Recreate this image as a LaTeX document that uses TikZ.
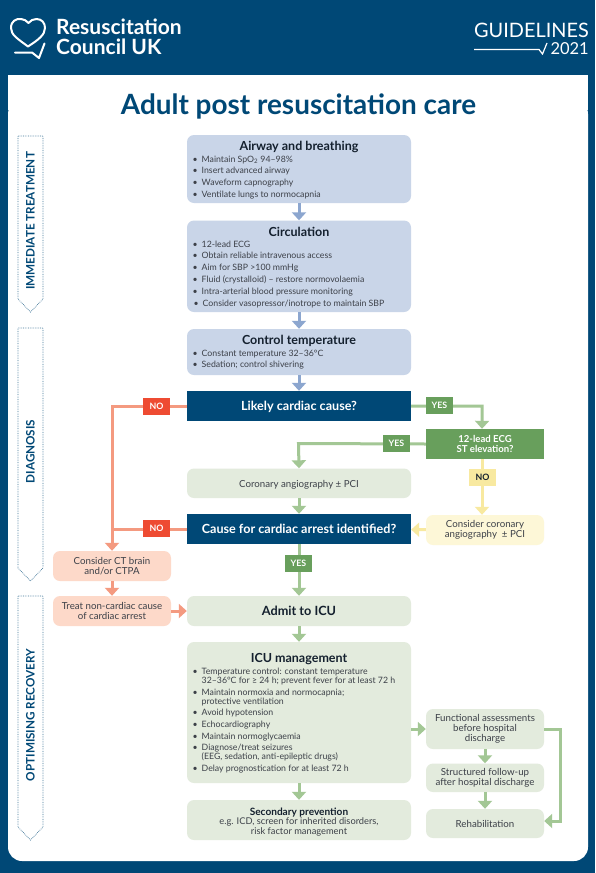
\documentclass[tikz,border=0pt]{standalone}
\usepackage{fontspec}
\setmainfont{Lato}
\usetikzlibrary{arrows.meta,positioning,calc}
\definecolor{navy}{HTML}{004876}
\definecolor{bluebg}{HTML}{C9D5E8}
\definecolor{bluearr}{HTML}{8CA6CF}
\definecolor{greenbg}{HTML}{E3EBDD}
\definecolor{greenarr}{HTML}{A3C795}
\definecolor{greenlab}{HTML}{689F5C}
\definecolor{orangebg}{HTML}{FDD9C9}
\definecolor{orangearr}{HTML}{F49A80}
\definecolor{redlab}{HTML}{EE4B32}
\definecolor{yellowbg}{HTML}{FDF7D7}
\definecolor{yellowarr}{HTML}{F8E9A0}
\definecolor{bodytxt}{HTML}{3C4048}
\definecolor{headtxt}{HTML}{14202E}
\newcommand{\bitem}[1]{\makebox[9pt][l]{\textbullet}#1}
\newcommand{\bcont}[1]{\hspace*{9pt}#1}
\tikzset{
    box/.style =    {rectangle,
                    rounded corners=7pt,
                    minimum width=224pt,
                    inner sep=0pt,
                    align=center,
                    text=bodytxt,
                    font=\fontsize{9.7}{10}\selectfont},
    bluebox/.style =    {box, fill=bluebg},
    greenbox/.style =   {box, fill=greenbg},
    sidebox/.style =    {box, fill=greenbg, minimum width=118pt},
    orangebox/.style =  {box, fill=orangebg, minimum width=118pt},
    yellowbox/.style =  {box, fill=yellowbg, minimum width=118pt},
    question/.style =   {rectangle,
                    fill=navy,
                    text=white,
                    minimum width=224pt,
                    minimum height=30pt,
                    inner sep=0pt,
                    text height=9pt,
                    text depth=1pt,
                    font=\fontsize{12.6}{14}\bfseries\selectfont},
    headtext/.style =   {text=headtxt, inner sep=0pt,
                    font=\fontsize{12.5}{14}\bfseries\selectfont},
    bullets/.style =    {text=bodytxt, inner sep=0pt, align=left, anchor=north west,
                    font=\fontsize{8.75}{9}\selectfont},
    tag/.style =    {rectangle,
                    minimum width=27pt,
                    minimum height=17pt,
                    inner sep=0pt,
                    font=\fontsize{8.8}{9}\bfseries\selectfont},
    yes/.style =    {tag, fill=greenlab, text=white},
    no/.style =     {tag, fill=redlab, text=white},
    noyellow/.style = {tag, fill=yellowarr, text=headtxt},
    link/.style =   {line width=3pt, -{Triangle[width=14pt,length=8pt]}},
    bluelink/.style =   {link, draw=bluearr},
    greenlink/.style =  {link, draw=greenarr},
    orangelink/.style = {link, draw=orangearr},
    yellowlink/.style = {link, draw=yellowarr},
    phase/.style =  {draw=navy!75!white, line width=0.7pt, densely dotted},
    phasetext/.style =  {rotate=90, text=navy, inner sep=0pt,
                    font=\fontsize{11.7}{12}\selectfont\bfseries},
    logo/.style =   {draw=white, line width=2pt, line join=round, line cap=round}
}
\begin{document}
\begin{tikzpicture}[x=1pt,y=-1pt]
\useasboundingbox (0,0) rectangle (595,873);
\fill[navy] (0,0) rectangle (595,873);
\fill[white,rounded corners=14pt] (8,100) -- (8,861) -- (588,861) -- (588,100) -- cycle;
\fill[white] (8,75) rectangle (588,110);

% header
\draw[logo] (28,46.5) .. controls (18,39) and (11,35) .. (11,28) .. controls (11,21) and (16,18.5) .. (21,19) .. controls (24,19.3) and (26.5,20.5) .. (28.5,23) .. controls (30.5,20.5) and (33,19) .. (36.5,19) .. controls (42,19) and (45,23) .. (45,28) .. controls (45,35) and (38,40) .. (28,46.5);
\draw[logo] (15,52.5) -- (32,52.5) -- (39,58) -- (44.5,43.5);
\node[text=white,inner sep=0pt,anchor=base west,font=\fontsize{21}{22}\bfseries\selectfont] (rc) at (56,34) {Resuscitation};
\node[text=white,inner sep=0pt,anchor=base west,font=\fontsize{21}{22}\bfseries\selectfont] (uk) at (56,54) {Council UK};
\node[text=white,inner sep=0pt,anchor=base east,font=\fontsize{19.9}{20}\selectfont] (gl) at (589,37) {GUIDELINES};
\node[text=white,inner sep=0pt,anchor=base east,font=\fontsize{16.5}{20}\selectfont] (yr) at (589,54.5) {2021};
\draw[draw=white,line width=1.2pt] (474,49.5) -- (539,49.5) -- (542.5,54) -- (547,43);
\node[text=navy,inner sep=0pt,font=\fontsize{27.9}{30}\bfseries\selectfont] (title) at (298.5,106) {Adult post resuscitation care};

% phases
\draw[phase] (18,136) -- (43,136) -- (43,299) -- (30.5,312) -- (18,299) -- cycle;
\draw[phase] (18,328) -- (43,328) -- (43,568) -- (30.5,581) -- (18,568) -- cycle;
\draw[phase] (18,596) -- (43,596) -- (43,827) -- (30.5,840) -- (18,827) -- cycle;
\node[phasetext] (ph1) at (30.5,221) {IMMEDIATE TREATMENT};
\node[phasetext] (ph2) at (30.5,451.5) {DIAGNOSIS};
\node[phasetext] (ph3) at (30.5,715) {OPTIMISING RECOVERY};

% boxes
\node[bluebox,minimum height=68pt]  (airway) at (299,169) {};
\node[bluebox,minimum height=91.5pt] (circ) at (299,266.25) {};
\node[bluebox,minimum height=46pt]  (temp) at (299,352) {};
\node[question] (likely) at (299,406) {Likely cardiac cause?};
\node[rectangle,fill=greenlab,text=white,minimum width=118pt,minimum height=30pt,inner sep=0pt,align=center,font=\fontsize{9.6}{10}\bfseries\selectfont] (ecg) at (485,444) {12-lead ECG\\ST elevation?};
\node[greenbox,minimum height=29.5pt,text height=7.5pt,text depth=0pt] (angio) at (299,483.25) {Coronary angiography ± PCI};
\node[question] (cause) at (299,529) {Cause for cardiac arrest identified?};
\node[yellowbox,minimum height=30pt] (conscor) at (485,530) {Consider coronary\\angiography\ \ ± PCI};
\node[orangebox,minimum height=30pt] (ct) at (112,566) {Consider CT brain\\and/or CTPA};
\node[orangebox,minimum height=30pt] (treat) at (112,611) {Treat non-cardiac cause\\of cardiac arrest};
\node[greenbox,minimum height=30pt,text height=9pt,text depth=0pt,text=headtxt,font=\fontsize{12.7}{14}\bfseries\selectfont] (icu) at (299,611) {Admit to ICU};
\node[greenbox,minimum height=141pt] (mgmt) at (299,712.5) {};
\node[greenbox,minimum height=40pt,font=\fontsize{9.3}{9.6}\selectfont] (second) at (299,820) {\rule{0pt}{11pt}{\fontsize{10.1}{9.6}\bfseries\selectfont\color{headtxt}Secondary prevention}\\e.g. ICD, screen for inherited disorders,\\risk factor management};
\node[sidebox,minimum height=40pt] (func) at (485,729) {Functional assessments\\before hospital\\discharge};
\node[sidebox,minimum height=28.5pt] (follow) at (485,777.75) {Structured follow-up\\after hospital discharge};
\node[sidebox,minimum height=29pt] (rehab) at (485,823.5) {Rehabilitation};

% box contents
\node[headtext] (airwayt) at (299,147) {Airway and breathing};
\node[bullets] (airwayl) at (192.5,155.5) {\bitem{Maintain SpO\textsubscript{2} 94–98\%}\\[2.8pt]\bitem{Insert advanced airway}\\[2.8pt]\bitem{Waveform capnography}\\[2.8pt]\bitem{Ventilate lungs to normocapnia}};
\node[headtext] (circt) at (299,232) {Circulation};
\node[bullets] (circl) at (192.5,240.5) {\bitem{12-lead ECG}\\[2.8pt]\bitem{Obtain reliable intravenous access}\\[2.8pt]\bitem{Aim for SBP >100 mmHg}\\[2.8pt]\bitem{Fluid (crystalloid) – restore normovolaemia}\\[2.8pt]\bitem{Intra-arterial blood pressure monitoring}\\[2.8pt]\hspace*{1pt}\bitem{Consider vasopressor/inotrope to maintain SBP}};
\node[headtext] (tempt) at (299,341) {Control temperature};
\node[bullets] (templ) at (192.5,349.5) {\bitem{Constant temperature 32–36°C}\\[2.8pt]\bitem{Sedation; control shivering}};
\node[headtext] (mgmtt) at (299,659) {ICU management};
\node[bullets] (mgmtl) at (192.5,668) {\bitem{Temperature control: constant temperature}\\\bcont{32–36°C for ≥ 24 h; prevent fever for at least 72 h}\\[2.4pt]\bitem{Maintain normoxia and normocapnia;}\\\bcont{protective ventilation}\\[2.8pt]\bitem{Avoid hypotension}\\[2.8pt]\bitem{Echocardiography}\\[2.8pt]\bitem{Maintain normoglycaemia}\\[2.4pt]\bitem{Diagnose/treat seizures}\\\bcont{(EEG, sedation, anti-epileptic drugs)}\\[2.8pt]\bitem{Delay prognostication for at least 72 h}};

% connectors
\draw[bluelink] (airway) -- (circ);
\draw[bluelink] (circ) -- (temp);
\draw[bluelink] (temp) -- (likely);
\draw[greenlink] (likely.east) -- ++(71,0) -- ([xshift=-3pt]ecg.north);
\draw[greenlink] (ecg.west) -- (298.5,443.5) -- (angio.north);
\draw[greenlink] (angio) -- (cause);
\draw[greenlink] (cause) -- (icu);
\draw[greenlink] (icu) -- (mgmt);
\draw[greenlink] (mgmt) -- (second);
\draw[greenlink] (mgmt.east |- func) -- (func.west);
\draw[greenlink] (func) -- (follow);
\draw[greenlink] (follow) -- (rehab);
\draw[greenlink] (func.east) -- ++(16,0) |- ([yshift=2.5pt]rehab.east);
\draw[yellowlink] ([xshift=-3pt]ecg.south) -- ([xshift=-3pt]conscor.north);
\draw[yellowlink] (conscor) -- (cause);
\draw[orangelink] (likely.west) -- (112,406) -- (ct.north);
\draw[orangearr,line width=3pt] (cause.west) -- (112,529);
\draw[orangelink] (ct) -- (treat);
\draw[orangelink] (treat) -- (icu);

% tags
\node[no] (no1) at (156.5,406.5) {NO};
\node[no] (no2) at (156.5,528.5) {NO};
\node[yes] (yes1) at (439.5,405.5) {YES};
\node[yes] (yes2) at (396.5,443.5) {YES};
\node[yes] (yes3) at (298.5,563.5) {YES};
\node[noyellow] (no3) at (482.5,477.5) {NO};
\end{tikzpicture}
\end{document}
